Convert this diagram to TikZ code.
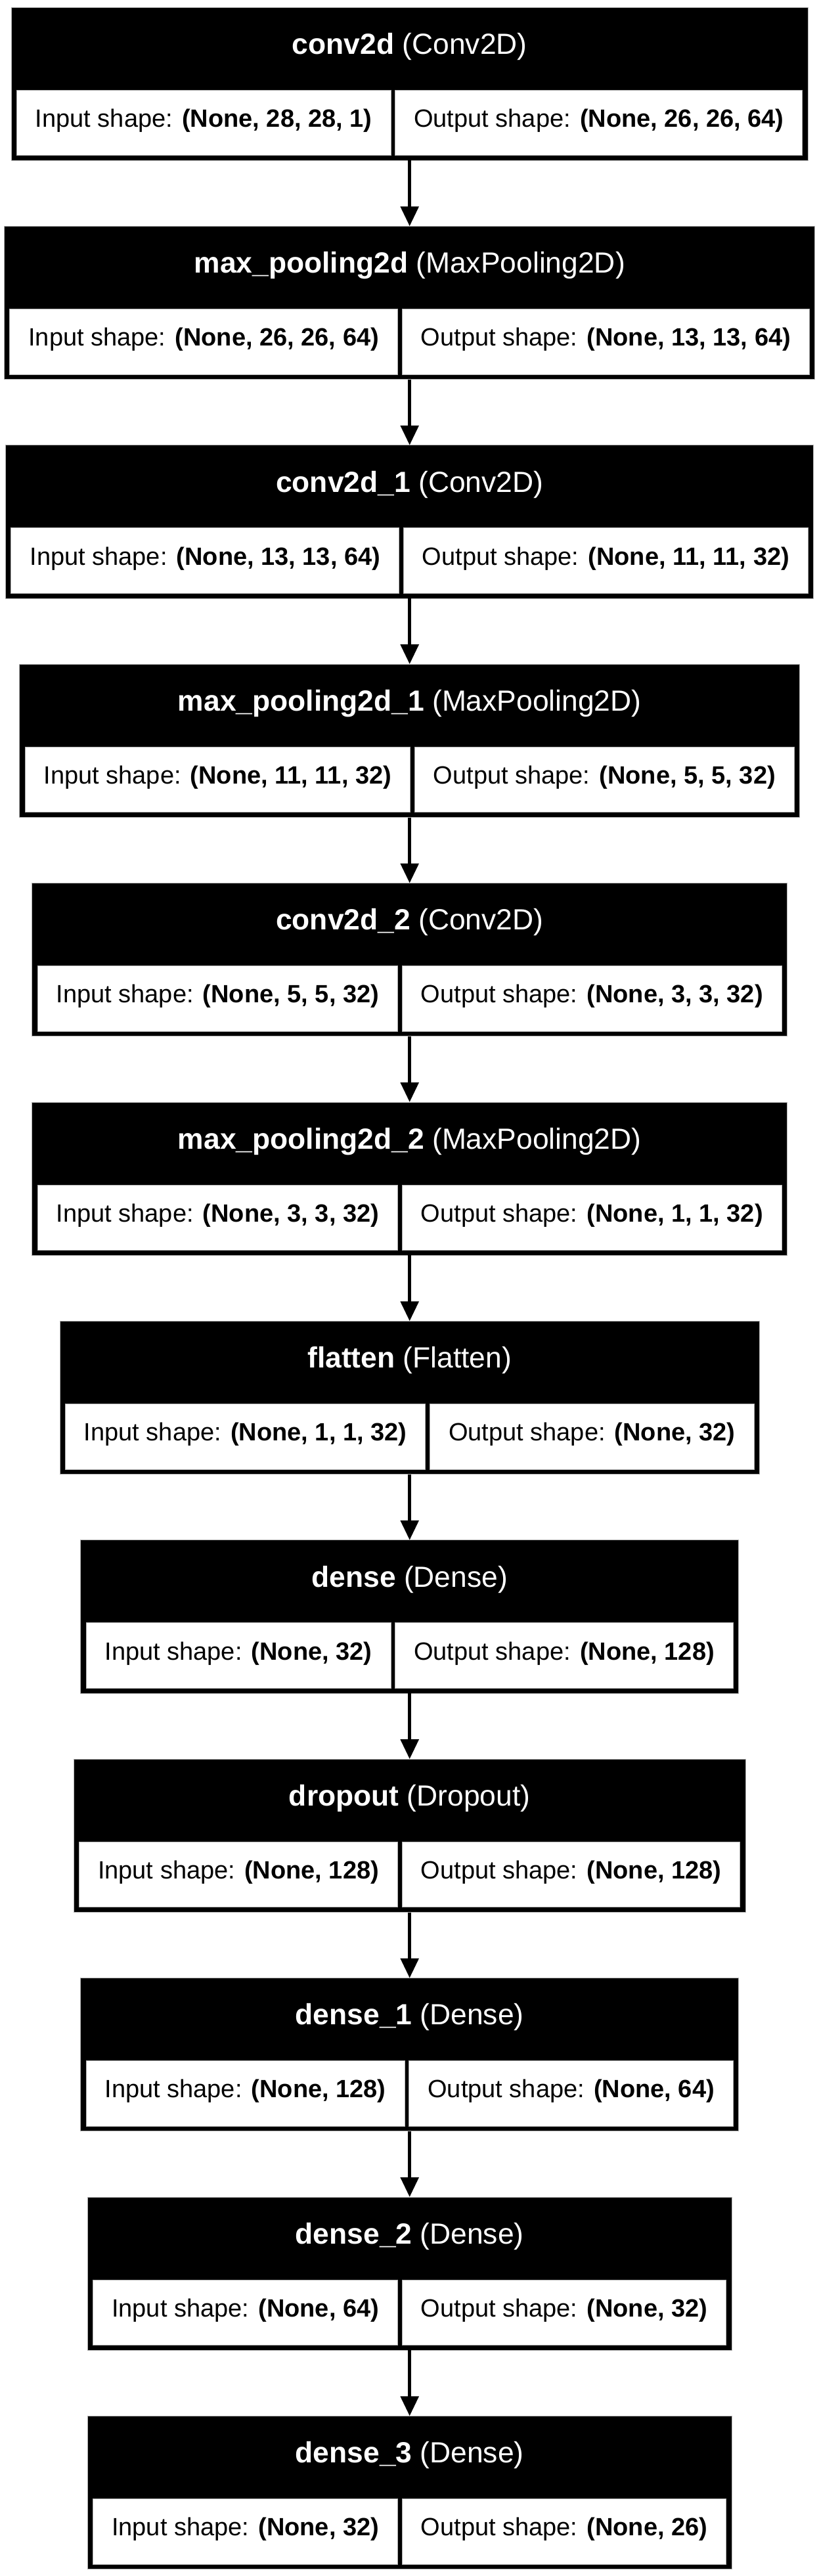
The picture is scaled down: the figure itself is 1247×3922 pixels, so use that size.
\documentclass[tikz,border=0pt]{standalone}
\usepackage{fontspec}
\setmainfont{Liberation Sans}
\usetikzlibrary{arrows.meta}
\newlength\lyLen
\newcommand\cellfont{\fontsize{38}{44}\selectfont}
\newcommand\headfont{\fontsize{44.4}{52}\selectfont}
\def\lyCX{623.7}
\def\lyTopZero{11}
\def\lyPitch{333.4}
\def\lyPad{28.5}
\def\lyB{8.3}
\def\lyG{6.7}
\tikzset{
  layerbox/.style={rectangle, fill=black, draw=gray!60, line width=1pt, inner sep=0pt, outer sep=0pt, minimum height=233.3pt},
  headtext/.style={rectangle, inner sep=0pt, outer sep=0pt, text=white, font=\headfont, minimum height=126pt, text height=24pt, text depth=7.4pt},
  cellbox/.style={rectangle, fill=white, draw=gray!60, line width=1pt, inner sep=0pt, outer sep=0pt, font=\cellfont, minimum height=99.7pt, text height=20pt, text depth=7.1pt},
  flow/.style={line width=5.5pt, -{Triangle[length=30pt,width=27pt]}}
}
% measure the two cell texts of a layer (outside the picture)
\newcommand\mkw[3]{%
  \settowidth\lyLen{\cellfont Input shape: \textbf{#2}}%
  \expandafter\edef\csname lyWL#1\endcsname{\the\lyLen}%
  \settowidth\lyLen{\cellfont Output shape: \textbf{#3}}%
  \expandafter\edef\csname lyWR#1\endcsname{\the\lyLen}%
}
\newcommand\mklayer[5]{%
  % #1 node name, #2 index, #3 header, #4 input shape, #5 output shape
  \pgfmathsetmacro\lyWL{\csname lyWL#1\endcsname/1pt+2*\lyPad}%
  \pgfmathsetmacro\lyWR{\csname lyWR#1\endcsname/1pt+2*\lyPad}%
  \pgfmathsetmacro\lyW{\lyWL+\lyWR+2*\lyB+\lyG}%
  \pgfmathsetmacro\lyTop{\lyTopZero+(#2)*\lyPitch}%
  \pgfmathsetmacro\lyCellTop{\lyTop+126}%
  \pgfmathsetmacro\lyXL{\lyCX-\lyW/2+\lyB}%
  \pgfmathsetmacro\lyXR{\lyCX-\lyW/2+\lyB+\lyWL+\lyG}%
  \node[layerbox, minimum width=\lyW pt, anchor=north] (#1) at (\lyCX pt,-\lyTop pt) {};
  \node[headtext, anchor=north] (#1h) at (\lyCX pt,-\lyTop pt) {#3};
  \node[cellbox, minimum width=\lyWL pt, anchor=north west] (#1i) at (\lyXL pt,-\lyCellTop pt) {Input shape: \textbf{#4}};
  \node[cellbox, minimum width=\lyWR pt, anchor=north west] (#1o) at (\lyXR pt,-\lyCellTop pt) {Output shape: \textbf{#5}};
}
\begin{document}
\mkw{n1}{(None, 28, 28, 1)}{(None, 26, 26, 64)}%
\mkw{n2}{(None, 26, 26, 64)}{(None, 13, 13, 64)}%
\mkw{n3}{(None, 13, 13, 64)}{(None, 11, 11, 32)}%
\mkw{n4}{(None, 11, 11, 32)}{(None, 5, 5, 32)}%
\mkw{n5}{(None, 5, 5, 32)}{(None, 3, 3, 32)}%
\mkw{n6}{(None, 3, 3, 32)}{(None, 1, 1, 32)}%
\mkw{n7}{(None, 1, 1, 32)}{(None, 32)}%
\mkw{n8}{(None, 32)}{(None, 128)}%
\mkw{n9}{(None, 128)}{(None, 128)}%
\mkw{n10}{(None, 128)}{(None, 64)}%
\mkw{n11}{(None, 64)}{(None, 32)}%
\mkw{n12}{(None, 32)}{(None, 26)}%
\begin{tikzpicture}
\useasboundingbox (0,0) rectangle (1247pt,-3922pt);
\fill[white] (0,0) rectangle (1247pt,-3922pt);
\mklayer{n1}{0}{\textbf{conv2d} (Conv2D)}{(None, 28, 28, 1)}{(None, 26, 26, 64)}
\mklayer{n2}{1}{\textbf{max\_pooling2d} (MaxPooling2D)}{(None, 26, 26, 64)}{(None, 13, 13, 64)}
\mklayer{n3}{2}{\textbf{conv2d\_1} (Conv2D)}{(None, 13, 13, 64)}{(None, 11, 11, 32)}
\mklayer{n4}{3}{\textbf{max\_pooling2d\_1} (MaxPooling2D)}{(None, 11, 11, 32)}{(None, 5, 5, 32)}
\mklayer{n5}{4}{\textbf{conv2d\_2} (Conv2D)}{(None, 5, 5, 32)}{(None, 3, 3, 32)}
\mklayer{n6}{5}{\textbf{max\_pooling2d\_2} (MaxPooling2D)}{(None, 3, 3, 32)}{(None, 1, 1, 32)}
\mklayer{n7}{6}{\textbf{flatten} (Flatten)}{(None, 1, 1, 32)}{(None, 32)}
\mklayer{n8}{7}{\textbf{dense} (Dense)}{(None, 32)}{(None, 128)}
\mklayer{n9}{8}{\textbf{dropout} (Dropout)}{(None, 128)}{(None, 128)}
\mklayer{n10}{9}{\textbf{dense\_1} (Dense)}{(None, 128)}{(None, 64)}
\mklayer{n11}{10}{\textbf{dense\_2} (Dense)}{(None, 64)}{(None, 32)}
\mklayer{n12}{11}{\textbf{dense\_3} (Dense)}{(None, 32)}{(None, 26)}
\foreach \a/\b in {n1/n2,n2/n3,n3/n4,n4/n5,n5/n6,n6/n7,n7/n8,n8/n9,n9/n10,n10/n11,n11/n12}
  \draw[flow] (\a.south) -- (\b.north);
\end{tikzpicture}
\end{document}
